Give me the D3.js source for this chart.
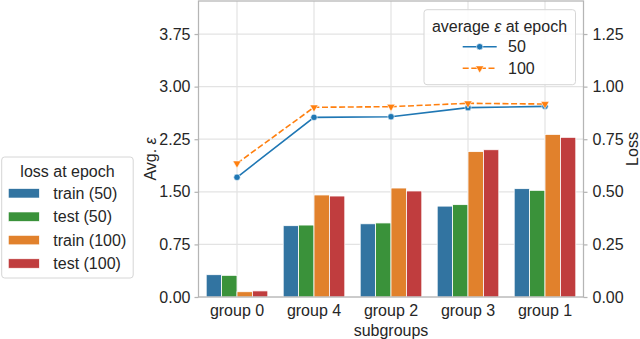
<!DOCTYPE html>
<html lang="en">
<head>
  <meta charset="UTF-8">
  <title>Loss and average epsilon by subgroup</title>
  <script src="https://d3js.org/d3.v7.min.js"></script>
  <style>
    body {
      margin: 0;
      background: #fff;
    }

    svg text {
      font-family: "Liberation Sans", Arial, sans-serif;
      font-size: 16px;
      fill: #262626;
    }
  </style>
</head>
<body>
  <svg id="chart" width="640" height="339"></svg>
  <script>
    // values
    const groups = ["group 0", "group 4", "group 2", "group 3", "group 1"];
    const lossTrain50 = [0.106, 0.339, 0.348, 0.432, 0.515];
    const lossTest50 = [0.103, 0.342, 0.352, 0.439, 0.507];
    const lossTrain100 = [0.025, 0.485, 0.518, 0.691, 0.773];
    const lossTest100 = [0.029, 0.480, 0.504, 0.700, 0.759];
    const eps50 = [1.707, 2.562, 2.571, 2.700, 2.719];
    const eps100 = [1.906, 2.705, 2.714, 2.762, 2.752];
    const leftTicks = [0, 0.75, 1.5, 2.25, 3.0, 3.75];
    const rightTicks = [0, 0.25, 0.5, 0.75, 1.0, 1.25];

    const barSeries = [
      { name: "train (50)", values: lossTrain50, color: "#3274a1" },
      { name: "test (50)", values: lossTest50, color: "#3a923a" },
      { name: "train (100)", values: lossTrain100, color: "#e1812c" },
      { name: "test (100)", values: lossTest100, color: "#c03d3e" }
    ];
    const lineSeries = [
      { name: "50", values: eps50, color: "#1f77b4", dash: null, marker: "circle" },
      { name: "100", values: eps100, color: "#ff7f0e", dash: "6,2.6", marker: "tri" }
    ];

    const plot = { left: 198.5, right: 583.5, top: 1, bottom: 297 };
    const svg = d3.select("#chart");

    const x = d3.scaleBand()
      .domain(groups)
      .range([plot.left, plot.right])
      .padding(0);
    const yLeft = d3.scaleLinear().domain([0, 4.221]).range([plot.bottom, plot.top]);
    const yRight = d3.scaleLinear().domain([0, 4.221 / 3]).range([plot.bottom, plot.top]);

    const gridColor = "#e3e3e3";
    const spineColor = "#b5b5b5";

    // grid
    const grid = svg.append("g");
    grid.selectAll(".hgrid")
      .data(leftTicks)
      .enter()
      .append("line")
      .attr("x1", plot.left).attr("x2", plot.right)
      .attr("y1", d => yLeft(d)).attr("y2", d => yLeft(d))
      .attr("stroke", gridColor).attr("stroke-width", 1.2);
    grid.selectAll(".vgrid")
      .data(groups)
      .enter()
      .append("line")
      .attr("x1", d => x(d) + x.bandwidth() / 2).attr("x2", d => x(d) + x.bandwidth() / 2)
      .attr("y1", plot.top).attr("y2", plot.bottom)
      .attr("stroke", gridColor).attr("stroke-width", 1.2);

    // bars (right axis)
    const sub = d3.scaleBand()
      .domain(barSeries.map(s => s.name))
      .range([x.bandwidth() * 0.1, x.bandwidth() * 0.9]);
    barSeries.forEach(s => {
      svg.append("g").selectAll("rect")
        .data(s.values)
        .enter()
        .append("rect")
        .attr("x", (d, i) => x(groups[i]) + sub(s.name))
        .attr("width", sub.bandwidth())
        .attr("y", d => yRight(d))
        .attr("height", d => yRight(0) - yRight(d))
        .attr("fill", s.color)
        .attr("stroke", "#fff")
        .attr("stroke-width", 0.8);
    });

    // spines
    svg.append("rect")
      .attr("x", plot.left).attr("y", plot.top)
      .attr("width", plot.right - plot.left).attr("height", plot.bottom - plot.top)
      .attr("fill", "none").attr("stroke", spineColor).attr("stroke-width", 1.25);

    // lines (left axis)
    const line = d3.line()
      .x((d, i) => x(groups[i]) + x.bandwidth() / 2)
      .y(d => yLeft(d));
    const triangle = d3.symbol().type(d3.symbolTriangle).size(30);

    function drawMarker(g, type, color, cx, cy) {
      if (type === "circle") {
        g.append("circle")
          .attr("cx", cx).attr("cy", cy).attr("r", 3.2)
          .attr("fill", color).attr("stroke", "#fff").attr("stroke-width", 0.6);
      } else {
        g.append("path")
          .attr("d", triangle())
          .attr("transform", `translate(${cx},${cy}) rotate(180)`)
          .attr("fill", color).attr("stroke", "#fff").attr("stroke-width", 0.6);
      }
    }

    lineSeries.forEach(s => {
      const g = svg.append("g");
      g.append("path")
        .datum(s.values)
        .attr("d", line)
        .attr("fill", "none")
        .attr("stroke", s.color)
        .attr("stroke-width", 1.6)
        .attr("stroke-dasharray", s.dash);
      s.values.forEach((v, i) => {
        drawMarker(g, s.marker, s.color, x(groups[i]) + x.bandwidth() / 2, yLeft(v));
      });
    });

    // axes
    const leftAxis = svg.append("g")
      .attr("transform", `translate(${plot.left},0)`)
      .call(d3.axisLeft(yLeft).tickValues(leftTicks).tickFormat(d3.format(".2f")).tickSize(4).tickPadding(4));
    const rightAxis = svg.append("g")
      .attr("transform", `translate(${plot.right},0)`)
      .call(d3.axisRight(yRight).tickValues(rightTicks).tickFormat(d3.format(".2f")).tickSize(4).tickPadding(5));
    const bottomAxis = svg.append("g")
      .attr("transform", `translate(0,${plot.bottom})`)
      .call(d3.axisBottom(x).tickSize(0).tickPadding(8));
    [leftAxis, rightAxis, bottomAxis].forEach(a => {
      a.select(".domain").remove();
      a.selectAll(".tick line").attr("stroke", spineColor).attr("stroke-width", 1.25);
      a.selectAll("text").attr("font-size", 16).attr("font-family", null).style("fill", "#262626");
    });

    // axis titles
    const avgLabel = svg.append("text")
      .attr("transform", "translate(156,159) rotate(-90)")
      .attr("text-anchor", "middle");
    avgLabel.append("tspan").text("Avg. ");
    avgLabel.append("tspan").attr("font-style", "italic").text("ε");
    svg.append("text")
      .attr("transform", "translate(638,149) rotate(-90)")
      .attr("text-anchor", "middle")
      .text("Loss");
    svg.append("text")
      .attr("x", (plot.left + plot.right) / 2)
      .attr("y", 336)
      .attr("text-anchor", "middle")
      .text("subgroups");

    // legend: average epsilon (lines)
    const lg1 = svg.append("g");
    lg1.append("rect")
      .attr("x", 424).attr("y", 9.7).attr("width", 151.5).attr("height", 75)
      .attr("rx", 3)
      .attr("fill", "#fff").attr("fill-opacity", 0.85)
      .attr("stroke", "#d6d6d6").attr("stroke-width", 1);
    const t1 = lg1.append("text").attr("x", 499.5).attr("y", 32).attr("text-anchor", "middle");
    t1.append("tspan").text("average ");
    t1.append("tspan").attr("font-style", "italic").text("ε");
    t1.append("tspan").text(" at epoch");
    lineSeries.forEach((s, i) => {
      const cy = 46.7 + i * 21.6;
      lg1.append("line")
        .attr("x1", 462.7).attr("x2", 496.7).attr("y1", cy).attr("y2", cy)
        .attr("stroke", s.color).attr("stroke-width", 1.6)
        .attr("stroke-dasharray", s.dash);
      drawMarker(lg1, s.marker, s.color, 479.7, cy);
      lg1.append("text").attr("x", 508).attr("y", cy + 5.7).text(s.name);
    });

    // legend: loss (bars)
    const lg2 = svg.append("g");
    lg2.append("rect")
      .attr("x", 1.7).attr("y", 157).attr("width", 131.5).attr("height", 121)
      .attr("rx", 3)
      .attr("fill", "#fff").attr("fill-opacity", 0.85)
      .attr("stroke", "#d6d6d6").attr("stroke-width", 1);
    lg2.append("text").attr("x", 67.5).attr("y", 176.5).attr("text-anchor", "middle").text("loss at epoch");
    barSeries.forEach((s, i) => {
      const cy = 193.3 + i * 23.4;
      lg2.append("rect")
        .attr("x", 8.3).attr("y", cy - 4.7).attr("width", 31).attr("height", 9.4)
        .attr("fill", s.color).attr("stroke", "#fff").attr("stroke-width", 0.6);
      lg2.append("text").attr("x", 53.3).attr("y", cy + 5.7).text(s.name);
    });
  </script>
</body>
</html>
